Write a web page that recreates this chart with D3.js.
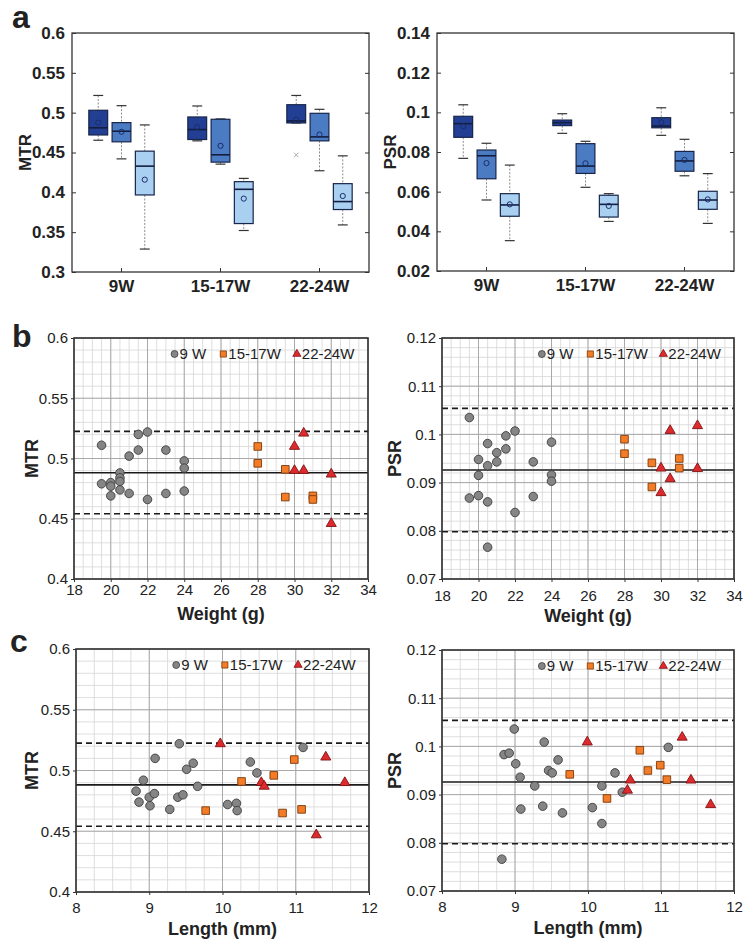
<!DOCTYPE html>
<html>
<head>
<meta charset="utf-8">
<script src="https://cdn.jsdelivr.net/npm/d3@7"></script>
<style>
  body { margin: 0; background: #fff; }
  svg { display: block; }
  text { font-family: Arial, "Liberation Sans", sans-serif; fill: #222; }
</style>
</head>
<body>
<div id="fig"></div>
<script>
// ---- data ----
var groups = ["9W", "15-17W", "22-24W"];
var shades = ["dark", "mid", "light"];
var legendNames = ["9 W", "15-17W", "22-24W"];

// box stats per group: [whisker low, q1, median, q3, whisker high, mean] for dark / mid / light box
var mtrBox9 = [[0.4654, 0.472, 0.481, 0.503, 0.5216, 0.4875], [0.442, 0.4634, 0.4767, 0.4875, 0.5088, 0.476], [0.3288, 0.3967, 0.4329, 0.4517, 0.4846, 0.4159]];
var mtrBox15 = [[0.4646, 0.4663, 0.4788, 0.4946, 0.5084, 0.4817], [0.4354, 0.4379, 0.4471, 0.4917, 0.4921, 0.4584], [0.3521, 0.3608, 0.4038, 0.4134, 0.4175, 0.3921]];
var mtrBox22 = [[0.4871, 0.4871, 0.4896, 0.51, 0.5216, 0.4913], [0.4271, 0.4646, 0.4696, 0.4992, 0.5042, 0.4725], [0.3591, 0.3784, 0.3884, 0.4109, 0.4458, 0.3954]];
var mtrOutliers = [["22-24W", 0, 0.447]];
var psrBox9 = [[0.0768, 0.0874, 0.0943, 0.098, 0.1038, 0.093], [0.0558, 0.0665, 0.0781, 0.081, 0.0844, 0.0744], [0.0353, 0.0476, 0.0533, 0.059, 0.0734, 0.0536]];
var psrBox15 = [[0.0894, 0.0933, 0.0948, 0.0961, 0.0993, 0.0946], [0.0622, 0.0692, 0.0729, 0.0842, 0.0854, 0.0743], [0.045, 0.0472, 0.0536, 0.0582, 0.059, 0.0528]];
var psrBox22 = [[0.0884, 0.0922, 0.0931, 0.0973, 0.1023, 0.095], [0.068, 0.0703, 0.0755, 0.0803, 0.0864, 0.076], [0.044, 0.0511, 0.0558, 0.0602, 0.0691, 0.0561]];

var mtrTicksA = [0.3, 0.35, 0.4, 0.45, 0.5, 0.55, 0.6];
var psrTicksA = [0.02, 0.04, 0.06, 0.08, 0.1, 0.12, 0.14];

// scatter points [x, y]
var mtrWeight9 = [[19.5, 0.511], [19.5, 0.479], [20, 0.480], [20, 0.477], [20, 0.469], [20.5, 0.488], [20.5, 0.484], [20.5, 0.481], [20.5, 0.474], [21, 0.502], [21, 0.471], [21.5, 0.520], [21.5, 0.507], [22, 0.522], [22, 0.466], [23, 0.507], [23, 0.471], [24, 0.498], [24, 0.492], [24, 0.473]];
var mtrWeight15 = [[28, 0.510], [28, 0.496], [29.5, 0.491], [29.5, 0.468], [31, 0.469], [31, 0.466]];
var mtrWeight22 = [[30, 0.510], [30.5, 0.521], [30, 0.490], [30.5, 0.490], [32, 0.487], [32, 0.446]];

var psrWeight9 = [[19.5, 0.1035], [19.5, 0.0868], [20, 0.0948], [20, 0.0915], [20, 0.0873], [20.5, 0.0981], [20.5, 0.0935], [20.5, 0.0860], [20.5, 0.0766], [21, 0.0962], [21, 0.0943], [21.5, 0.0997], [21.5, 0.0970], [22, 0.1007], [22, 0.0838], [23, 0.0943], [23, 0.0871], [24, 0.0984], [24, 0.0916], [24, 0.0903]];
var psrWeight15 = [[28, 0.0990], [28, 0.0960], [29.5, 0.0941], [29.5, 0.0891], [31, 0.0950], [31, 0.0930]];
var psrWeight22 = [[30, 0.0930], [30, 0.0879], [30.5, 0.1008], [30.5, 0.0908], [32, 0.1018], [32, 0.0929]];

var mtrLength9 = [[8.82, 0.483], [8.86, 0.474], [8.92, 0.492], [9.0, 0.478], [9.01, 0.471], [9.07, 0.481], [9.08, 0.510], [9.28, 0.468], [9.39, 0.478], [9.41, 0.522], [9.46, 0.480], [9.51, 0.501], [9.60, 0.506], [9.66, 0.487], [10.07, 0.472], [10.19, 0.473], [10.20, 0.467], [10.38, 0.507], [10.47, 0.498], [11.10, 0.519]];
var mtrLength15 = [[9.77, 0.467], [10.26, 0.491], [10.70, 0.496], [10.82, 0.465], [10.98, 0.509], [11.08, 0.468]];
var mtrLength22 = [[9.97, 0.522], [10.53, 0.490], [10.57, 0.487], [11.28, 0.447], [11.41, 0.511], [11.67, 0.490]];

var psrLength9 = [[8.82, 0.0766], [8.85, 0.0983], [8.92, 0.0986], [8.99, 0.1036], [9.01, 0.0964], [9.07, 0.0936], [9.08, 0.0870], [9.27, 0.0918], [9.38, 0.0876], [9.40, 0.1009], [9.46, 0.0950], [9.51, 0.0945], [9.59, 0.0972], [9.65, 0.0862], [10.06, 0.0873], [10.19, 0.0918], [10.19, 0.0840], [10.37, 0.0945], [10.47, 0.0905], [11.10, 0.0998]];
var psrLength15 = [[9.75, 0.0942], [10.26, 0.0892], [10.71, 0.0992], [10.82, 0.0950], [10.99, 0.0961], [11.08, 0.0931]];
var psrLength22 = [[9.99, 0.1009], [10.54, 0.0909], [10.58, 0.0930], [11.29, 0.1019], [11.41, 0.0930], [11.68, 0.0879]];

// reference lines: [mean, lower, upper]
var mtrRefLines = [0.4882, 0.4541, 0.5225];
var psrRefLines = [0.0926, 0.0798, 0.1054];

var mtrTicksB = [0.4, 0.45, 0.5, 0.55, 0.6];
var psrTicksB = [0.07, 0.08, 0.09, 0.1, 0.11, 0.12];
var weightTicks = [18, 20, 22, 24, 26, 28, 30, 32, 34];
var lengthTicks = [8, 9, 10, 11, 12];

// ---- styles ----
var boxFill = { dark: "#233f94", mid: "#4b7bc3", light: "#a9d0f1" };
var markerFill = ["#858585", "#f47c26", "#de2a2c"];
var markerStroke = ["#3d3d3d", "#7a3a0c", "#7e1416"];
var markerType = [d3.symbolCircle, d3.symbolSquare, d3.symbolTriangle];
var markerSize = [58, 58, 44];

var W = 751, H = 949;
var svg = d3.select("#fig").append("svg")
  .attr("width", W)
  .attr("height", H);
svg.append("rect").attr("width", W).attr("height", H).attr("fill", "#fff");

var fmt = function (d) { return String(+d.toFixed(3)); };

function boxPanel(r, stats, outliers, domain, ticks, ylab) {
  var g = svg.append("g");
  var x = d3.scaleBand().domain(groups).range([r.x0, r.x1]);
  var bw = x.bandwidth();
  var off = d3.scalePoint().domain(shades).range([-0.235 * bw, 0.235 * bw]);
  var y = d3.scaleLinear().domain(domain).range([r.y1, r.y0]);
  var boxW = 0.19 * bw, capW = 0.1 * bw;

  var boxes = [];
  groups.forEach(function (grp, gi) {
    stats[gi].forEach(function (s, si) {
      boxes.push({ grp: grp, shade: shades[si], lo: s[0], q1: s[1], med: s[2], q3: s[3], hi: s[4], mean: s[5] });
    });
  });
  var cx = function (d) { return x(d.grp) + bw / 2 + off(d.shade); };

  // whiskers
  g.selectAll(".wu").data(boxes).enter().append("line")
    .attr("x1", cx).attr("x2", cx)
    .attr("y1", function (d) { return y(d.hi); })
    .attr("y2", function (d) { return y(d.q3); })
    .attr("stroke", "#8c8c8c").attr("stroke-width", 1).attr("stroke-dasharray", "2,1.5");
  g.selectAll(".wl").data(boxes).enter().append("line")
    .attr("x1", cx).attr("x2", cx)
    .attr("y1", function (d) { return y(d.q1); })
    .attr("y2", function (d) { return y(d.lo); })
    .attr("stroke", "#8c8c8c").attr("stroke-width", 1).attr("stroke-dasharray", "2,1.5");
  // caps
  ["hi", "lo"].forEach(function (k) {
    g.selectAll(".cap" + k).data(boxes).enter().append("line")
      .attr("x1", function (d) { return cx(d) - capW / 2; })
      .attr("x2", function (d) { return cx(d) + capW / 2; })
      .attr("y1", function (d) { return y(d[k]); })
      .attr("y2", function (d) { return y(d[k]); })
      .attr("stroke", "#333").attr("stroke-width", 1.2);
  });
  // boxes
  g.selectAll(".box").data(boxes).enter().append("rect")
    .attr("x", function (d) { return cx(d) - boxW / 2; })
    .attr("y", function (d) { return y(d.q3); })
    .attr("width", boxW)
    .attr("height", function (d) { return y(d.q1) - y(d.q3); })
    .attr("fill", function (d) { return boxFill[d.shade]; })
    .attr("stroke", "#17254a").attr("stroke-width", 1.2);
  // medians
  g.selectAll(".med").data(boxes).enter().append("line")
    .attr("x1", function (d) { return cx(d) - boxW / 2; })
    .attr("x2", function (d) { return cx(d) + boxW / 2; })
    .attr("y1", function (d) { return y(d.med); })
    .attr("y2", function (d) { return y(d.med); })
    .attr("stroke", "#141e40").attr("stroke-width", 1.6);
  // means
  g.selectAll(".mean").data(boxes).enter().append("circle")
    .attr("cx", cx)
    .attr("cy", function (d) { return y(d.mean); })
    .attr("r", 2.6)
    .attr("fill", "none").attr("stroke", "#1a2d6b").attr("stroke-width", 1);
  // outliers
  g.selectAll(".out").data(outliers).enter().append("path")
    .attr("d", d3.symbol().type(d3.symbolX).size(14))
    .attr("transform", function (d) {
      return "translate(" + (x(d[0]) + bw / 2 + off(shades[d[1]])) + "," + y(d[2]) + ")";
    })
    .attr("stroke", "#aaa").attr("fill", "none").attr("stroke-width", 1);

  // frame
  g.append("rect").attr("x", r.x0).attr("y", r.y0)
    .attr("width", r.x1 - r.x0).attr("height", r.y1 - r.y0)
    .attr("fill", "none").attr("stroke", "#333").attr("stroke-width", 1.3);

  var ya = g.append("g").attr("transform", "translate(" + r.x0 + ",0)")
    .call(d3.axisLeft(y).tickValues(ticks).tickFormat(fmt).tickSizeInner(-4).tickSizeOuter(0).tickPadding(7));
  var yr = g.append("g").attr("transform", "translate(" + r.x1 + ",0)")
    .call(d3.axisRight(y).tickValues(ticks).tickFormat("").tickSizeInner(-4).tickSizeOuter(0));
  var xa = g.append("g").attr("transform", "translate(0," + r.y1 + ")")
    .call(d3.axisBottom(x).tickSizeInner(-4).tickSizeOuter(0).tickPadding(8));
  [ya, yr, xa].forEach(function (a) {
    a.select(".domain").remove();
    a.selectAll(".tick line").attr("stroke", "#333");
    a.selectAll("text").style("font-size", "17px").style("font-weight", "bold").attr("fill", "#222");
  });

  g.append("text")
    .attr("transform", "translate(" + r.lx + "," + (r.y0 + r.y1) / 2 + ") rotate(-90)")
    .attr("text-anchor", "middle").attr("dy", "0.35em")
    .style("font-size", "17px").style("font-weight", "bold")
    .text(ylab);
}

function scatterPanel(r, sets, refs, xDomain, xTicks, xMinor, yDomain, yTicks, yMinor, xlab, ylab) {
  var g = svg.append("g");
  var x = d3.scaleLinear().domain(xDomain).range([r.x0, r.x1]);
  var y = d3.scaleLinear().domain(yDomain).range([r.y1, r.y0]);

  // minor grid
  var xm = d3.range(xDomain[0], xDomain[1] + 1e-9, xMinor);
  var ym = d3.range(yDomain[0], yDomain[1] + 1e-9, yMinor);
  g.selectAll(".gxm").data(xm).enter().append("line")
    .attr("x1", x).attr("x2", x).attr("y1", r.y0).attr("y2", r.y1)
    .attr("stroke", "#d6d6d6").attr("stroke-width", 0.8);
  g.selectAll(".gym").data(ym).enter().append("line")
    .attr("y1", y).attr("y2", y).attr("x1", r.x0).attr("x2", r.x1)
    .attr("stroke", "#d6d6d6").attr("stroke-width", 0.8);
  // major grid
  g.selectAll(".gx").data(xTicks).enter().append("line")
    .attr("x1", x).attr("x2", x).attr("y1", r.y0).attr("y2", r.y1)
    .attr("stroke", "#a3a3a3").attr("stroke-width", 0.9);
  g.selectAll(".gy").data(yTicks).enter().append("line")
    .attr("y1", y).attr("y2", y).attr("x1", r.x0).attr("x2", r.x1)
    .attr("stroke", "#a3a3a3").attr("stroke-width", 0.9);

  // mean and limits
  g.selectAll(".ref").data(refs).enter().append("line")
    .attr("x1", r.x0).attr("x2", r.x1)
    .attr("y1", y).attr("y2", y)
    .attr("stroke", "#1a1a1a").attr("stroke-width", 1.6)
    .attr("stroke-dasharray", function (d, i) { return i === 0 ? null : "6,4"; });

  // points
  sets.forEach(function (pts, si) {
    g.selectAll(".p" + si).data(pts).enter().append("path")
      .attr("d", d3.symbol().type(markerType[si]).size(markerSize[si]))
      .attr("transform", function (d) { return "translate(" + x(d[0]) + "," + y(d[1]) + ")"; })
      .attr("fill", markerFill[si]).attr("stroke", markerStroke[si]).attr("stroke-width", 0.9);
  });

  // frame
  g.append("rect").attr("x", r.x0).attr("y", r.y0)
    .attr("width", r.x1 - r.x0).attr("height", r.y1 - r.y0)
    .attr("fill", "none").attr("stroke", "#333").attr("stroke-width", 1.6);

  var ya = g.append("g").attr("transform", "translate(" + r.x0 + ",0)")
    .call(d3.axisLeft(y).tickValues(yTicks).tickFormat(fmt).tickSizeInner(3).tickSizeOuter(0).tickPadding(3));
  var xa = g.append("g").attr("transform", "translate(0," + r.y1 + ")")
    .call(d3.axisBottom(x).tickValues(xTicks).tickFormat(fmt).tickSizeInner(3).tickSizeOuter(0).tickPadding(r.xpad));
  [ya, xa].forEach(function (a) {
    a.select(".domain").remove();
    a.selectAll(".tick line").attr("stroke", "#333");
    a.selectAll("text").style("font-size", "15px").attr("fill", "#222");
  });

  g.append("text")
    .attr("transform", "translate(" + r.lx + "," + (r.y0 + r.y1) / 2 + ") rotate(-90)")
    .attr("text-anchor", "middle").attr("dy", "0.35em")
    .style("font-size", "18px").style("font-weight", "bold")
    .text(ylab);
  g.append("text")
    .attr("x", (r.x0 + r.x1) / 2).attr("y", r.xly)
    .attr("text-anchor", "middle")
    .style("font-size", "18px").style("font-weight", "bold")
    .text(xlab);

  // legend
  var pw = r.x1 - r.x0;
  var lx = [0.342, 0.508, 0.758];
  var leg = g.selectAll(".leg").data(legendNames).enter().append("g")
    .attr("transform", function (d, i) { return "translate(" + (r.x0 + lx[i] * pw) + "," + (r.y0 + 16) + ")"; });
  leg.append("path")
    .attr("d", function (d, i) { return d3.symbol().type(markerType[i]).size(markerSize[i] * 0.65)(); })
    .attr("fill", function (d, i) { return markerFill[i]; })
    .attr("stroke", function (d, i) { return markerStroke[i]; })
    .attr("stroke-width", 0.8);
  leg.append("text")
    .attr("x", 5).attr("dy", "0.36em")
    .style("font-size", "15px")
    .text(function (d) { return d; });
}

// panel a
boxPanel({ x0: 72, x1: 369, y0: 33, y1: 272, lx: 25 }, [mtrBox9, mtrBox15, mtrBox22], mtrOutliers, [0.3, 0.6], mtrTicksA, "MTR");
boxPanel({ x0: 437, x1: 734, y0: 33, y1: 271, lx: 390 }, [psrBox9, psrBox15, psrBox22], [], [0.02, 0.14], psrTicksA, "PSR");

// panel b
scatterPanel({ x0: 74, x1: 368, y0: 338, y1: 579, lx: 32, xpad: 2, xly: 620 },
  [mtrWeight9, mtrWeight15, mtrWeight22], mtrRefLines, [18, 34], weightTicks, 0.5, [0.4, 0.6], mtrTicksB, 0.01, "Weight (g)", "MTR");
scatterPanel({ x0: 442, x1: 734, y0: 338, y1: 579, lx: 395, xpad: 8, xly: 622 },
  [psrWeight9, psrWeight15, psrWeight22], psrRefLines, [18, 34], weightTicks, 0.5, [0.07, 0.12], psrTicksB, 0.002, "Weight (g)", "PSR");

// panel c
scatterPanel({ x0: 76, x1: 369, y0: 649, y1: 892, lx: 32, xpad: 7, xly: 935 },
  [mtrLength9, mtrLength15, mtrLength22], mtrRefLines, [8, 12], lengthTicks, 0.25, [0.4, 0.6], mtrTicksB, 0.01, "Length (mm)", "MTR");
scatterPanel({ x0: 442, x1: 734, y0: 650, y1: 891, lx: 395, xpad: 7, xly: 934 },
  [psrLength9, psrLength15, psrLength22], psrRefLines, [8, 12], lengthTicks, 0.25, [0.07, 0.12], psrTicksB, 0.002, "Length (mm)", "PSR");

// panel letters
[["a", 12, 28], ["b", 12, 347], ["c", 10, 652]].forEach(function (p) {
  svg.append("text").attr("x", p[1]).attr("y", p[2])
    .style("font-size", "32px").style("font-weight", "bold").attr("fill", "#111")
    .text(p[0]);
});
</script>
</body>
</html>
